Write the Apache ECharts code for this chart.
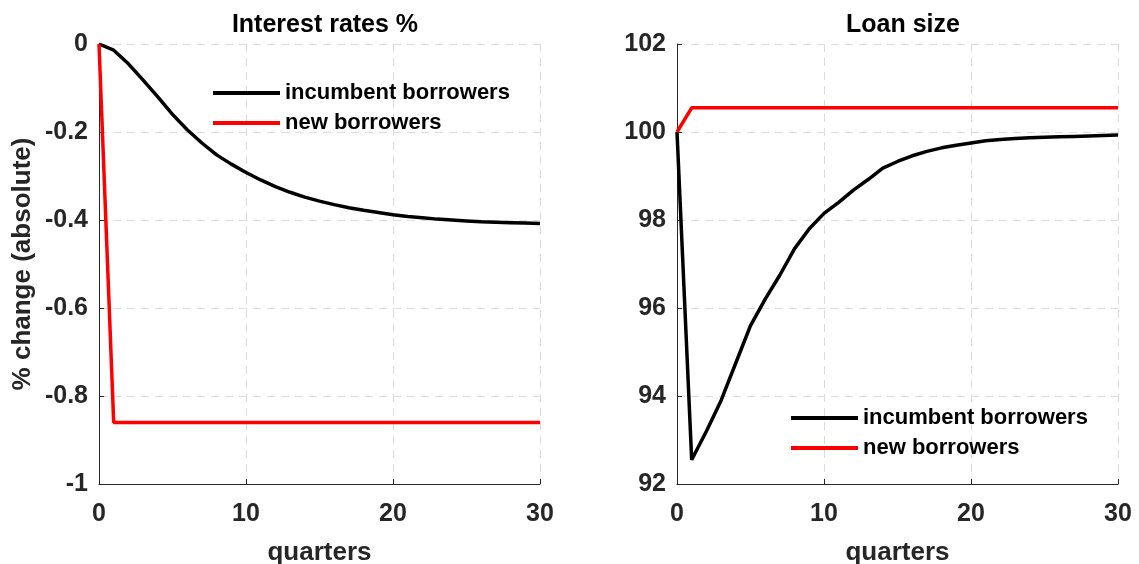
<!DOCTYPE html>
<html><head><meta charset="utf-8">
<script src="https://cdn.jsdelivr.net/npm/echarts@6/dist/echarts.min.js"></script>
<style>html,body{margin:0;padding:0;background:#fff}#c{width:1139px;height:564px}</style>
</head><body><div id="c"></div>
<script>
const quarters = Array.from({length:31},(_,i)=>i);
const rateIncumbent = [0,-0.014,-0.045,-0.082,-0.12,-0.16,-0.195,-0.225,-0.252,-0.273,-0.292,-0.309,-0.324,-0.337,-0.348,-0.357,-0.365,-0.372,-0.378,-0.383,-0.388,-0.392,-0.395,-0.398,-0.400,-0.402,-0.404,-0.405,-0.406,-0.407,-0.408];
const rateNew = [0].concat(Array(30).fill(-0.86));
const loanIncumbent = [100,92.55,93.2,93.9,94.75,95.6,96.2,96.75,97.35,97.8,98.15,98.4,98.68,98.92,99.18,99.33,99.46,99.56,99.64,99.7,99.75,99.8,99.83,99.85,99.87,99.88,99.89,99.9,99.91,99.92,99.93];
const loanNew = [100].concat(Array(30).fill(100.55));
const titles = ['Interest rates %','Loan size'];
const seriesNames = ['incumbent borrowers','new borrowers'];

const FONT = 'Liberation Sans, Arial, sans-serif';
const TXT = '#262626';
const yLabel = {color:TXT,fontWeight:'bold',fontSize:25,fontFamily:FONT,margin:11};
const xLabel = {color:TXT,fontWeight:'bold',fontSize:25,fontFamily:FONT,margin:18};
const splitLine = {show:true,lineStyle:{color:'#dcdcdc',type:[8,6],width:1}};
const axisLine = {show:true,onZero:false,lineStyle:{color:TXT,width:1}};
const axisTick = {show:true,inside:true,length:5,lineStyle:{color:TXT}};
function xAxis(i){return {type:'value',gridIndex:i,min:0,max:30,interval:10,name:'quarters',nameLocation:'middle',nameGap:56,
  nameTextStyle:{color:TXT,fontWeight:'bold',fontSize:26,fontFamily:FONT},axisLabel:xLabel,splitLine,axisLine,axisTick};}
const chart = echarts.init(document.getElementById('c'));
chart.setOption({
  animation:false,
  title:[
    {text:titles[0],left:320,top:8,textAlign:'center',textStyle:{color:'#000',fontWeight:'bold',fontSize:25,fontFamily:FONT}},
    {text:titles[1],left:898,top:8,textAlign:'center',textStyle:{color:'#000',fontWeight:'bold',fontSize:25,fontFamily:FONT}}
  ],
  grid:[{left:99,right:599,top:44,bottom:80,containLabel:false,outerBoundsMode:'none'},
        {left:677,right:21,top:44,bottom:80,containLabel:false,outerBoundsMode:'none'}],
  xAxis:[xAxis(0),xAxis(1)],
  yAxis:[
    {type:'value',gridIndex:0,min:-1,max:0,interval:0.2,name:'% change (absolute)',nameLocation:'middle',nameGap:63,
     nameTextStyle:{color:TXT,fontWeight:'bold',fontSize:26,fontFamily:FONT},
     axisLabel:Object.assign({},yLabel,{formatter:v=>String(Math.round(v*10)/10)}),splitLine,axisLine,axisTick},
    {type:'value',gridIndex:1,min:92,max:102,interval:2,axisLabel:yLabel,splitLine,axisLine,axisTick}
  ],
  legend:[
    {data:seriesNames,left:208,top:77,orient:'vertical',itemWidth:67,itemHeight:4,itemGap:8,icon:'rect',
     textStyle:{color:'#000',fontWeight:'bold',fontSize:22,fontFamily:FONT,lineHeight:22},selectedMode:false},
    {data:seriesNames,left:786,top:402,orient:'vertical',itemWidth:67,itemHeight:4,itemGap:8,icon:'rect',
     textStyle:{color:'#000',fontWeight:'bold',fontSize:22,fontFamily:FONT,lineHeight:22},selectedMode:false}
  ],
  series:[
    {name:seriesNames[0],type:'line',xAxisIndex:0,yAxisIndex:0,data:quarters.map((q,i)=>[q,rateIncumbent[i]]),showSymbol:false,lineStyle:{color:'#000',width:3.5},itemStyle:{color:'#000'}},
    {name:seriesNames[1],type:'line',xAxisIndex:0,yAxisIndex:0,data:quarters.map((q,i)=>[q,rateNew[i]]),showSymbol:false,lineStyle:{color:'#ff0000',width:3.5},itemStyle:{color:'#ff0000'}},
    {name:seriesNames[0],type:'line',xAxisIndex:1,yAxisIndex:1,data:quarters.map((q,i)=>[q,loanIncumbent[i]]),showSymbol:false,lineStyle:{color:'#000',width:3.5},itemStyle:{color:'#000'}},
    {name:seriesNames[1],type:'line',xAxisIndex:1,yAxisIndex:1,data:quarters.map((q,i)=>[q,loanNew[i]]),showSymbol:false,lineStyle:{color:'#ff0000',width:3.5},itemStyle:{color:'#ff0000'}}
  ]
});
</script></body></html>
